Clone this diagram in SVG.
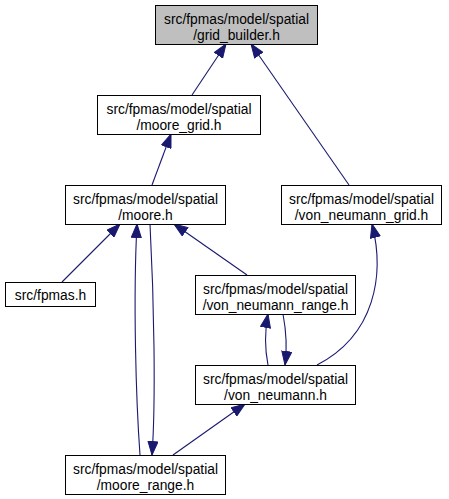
<svg xmlns="http://www.w3.org/2000/svg" width="449" height="499" viewBox="0 0 449 499">
<style>
.node rect{fill:#ffffff;stroke:#000000;stroke-width:1}
.node.root rect{fill:#bfbfbf}
.node text{font-family:"Liberation Sans",Arial,sans-serif;font-size:13.8px;fill:#000000;text-anchor:middle}
.edges path{fill:none;stroke:#191970;stroke-width:1.1;marker-end:url(#arr)}
</style>
<defs>
<marker id="arr" viewBox="0 0 15 11" refX="14" refY="5.5" markerWidth="15" markerHeight="11" markerUnits="userSpaceOnUse" orient="auto">
<path d="M0.5,0.5 L14,5.5 L0.5,10.5 z" fill="#191970" stroke="#191970" stroke-width="1"/>
</marker>
</defs>
<rect width="449" height="499" fill="#ffffff"/>
<g class="edges">
<path d="M192,95 L226,44"/>
<path d="M349,185 L251,44"/>
<path d="M152,185 L171,134"/>
<path d="M62,282 L120,224"/>
<path d="M140,455 C136,400 133,300 137,224"/>
<path d="M150,224 C154,300 156,400 152,455"/>
<path d="M247,275 L174,224"/>
<path d="M268,365 C265,350 265,330 268,314"/>
<path d="M283,314 C286,330 287,350 285,365"/>
<path d="M317,365 C375,335 385,275 372,224"/>
<path d="M173,455 L245,404"/>
</g>
<g id="grid_builder" class="node root"><rect x="155.5" y="5.5" width="162" height="39"/><text x="236.5" y="23.5">src/fpmas/model/spatial</text><text x="236.5" y="39.5">/grid_builder.h</text></g>
<g id="moore_grid" class="node"><rect x="97.5" y="95.5" width="163" height="39"/><text x="179" y="113.5">src/fpmas/model/spatial</text><text x="179" y="129.5">/moore_grid.h</text></g>
<g id="moore" class="node"><rect x="65.5" y="185.5" width="160" height="39"/><text x="145.5" y="203.5">src/fpmas/model/spatial</text><text x="145.5" y="219.5">/moore.h</text></g>
<g id="von_neumann_grid" class="node"><rect x="281.5" y="185.5" width="160" height="39"/><text x="361.5" y="203.5">src/fpmas/model/spatial</text><text x="361.5" y="219.5">/von_neumann_grid.h</text></g>
<g id="fpmas" class="node"><rect x="5.5" y="282.5" width="90" height="24"/><text x="50.5" y="299.5">src/fpmas.h</text></g>
<g id="von_neumann_range" class="node"><rect x="195.5" y="275.5" width="160" height="39"/><text x="275.5" y="293.5">src/fpmas/model/spatial</text><text x="275.5" y="309.5">/von_neumann_range.h</text></g>
<g id="von_neumann" class="node"><rect x="195.5" y="365.5" width="160" height="39"/><text x="275.5" y="383.5">src/fpmas/model/spatial</text><text x="275.5" y="399.5">/von_neumann.h</text></g>
<g id="moore_range" class="node"><rect x="65.5" y="455.5" width="160" height="39"/><text x="145.5" y="473.5">src/fpmas/model/spatial</text><text x="145.5" y="489.5">/moore_range.h</text></g>
</svg>
